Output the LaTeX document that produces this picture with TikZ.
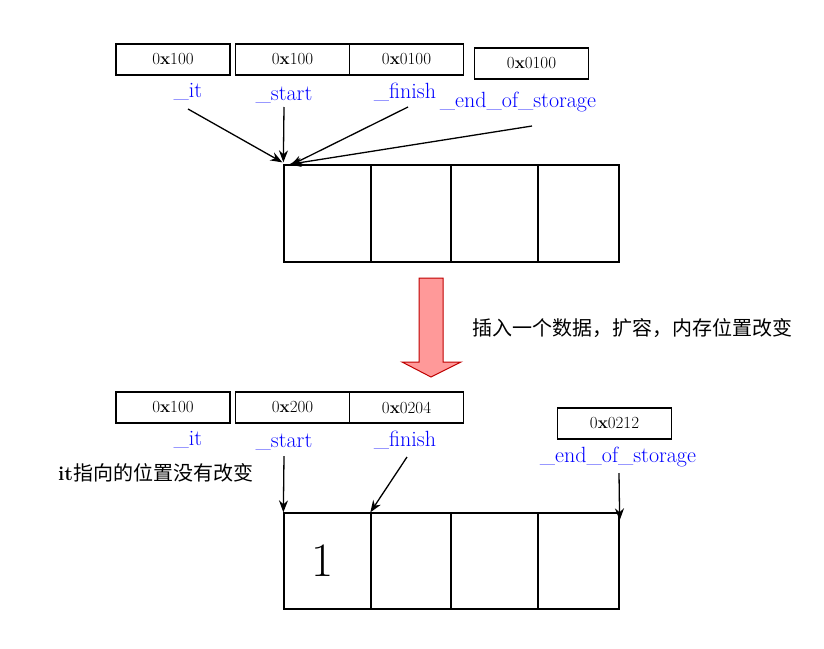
\documentclass[tikz,border=0pt]{standalone}
\usepackage{fontspec}
\newfontfamily\cjk{Noto Sans CJK SC}
\usetikzlibrary{arrows.meta}

\begin{document}
\begin{tikzpicture}[x=1pt, y=-1pt,
    B/.style={draw, line width=1.3pt, minimum width=114pt,
        minimum height=31pt, inner sep=0pt,
        font=\fontsize{17}{19}\selectfont},
    L/.style={anchor=base, text=blue, inner sep=0pt,
        font=\fontsize{22}{24}\selectfont},
    C/.style={draw, line width=1.3pt, inner sep=0pt},
    A/.style={-{Stealth[length=12pt,width=9pt]}, line width=1.3pt}]
    \useasboundingbox (0,0) rectangle (824,648);
    % before the insertion
    \node[B] (it1) at (173,59.5) {0\textbf{x}100};
    \node[B] (st1) at (292.5,59.5) {0\textbf{x}100};
    \node[B] (fi1) at (406.5,59.5) {0\textbf{x}0100};
    \node[B] (eo1) at (531.5,63.5) {0\textbf{x}0100};
    \node[L] (lit1) at (188,97) {\_it};
    \node[L] (lst1) at (284,100) {\_start};
    \node[L] (lfi1) at (405,98) {\_finish};
    \node[L] (leo1) at (518,107) {\_end\_of\_storage};
    \node[C, minimum width=87pt, minimum height=97pt] (a1) at (327.5,213.5) {};
    \node[C, minimum width=80pt, minimum height=97pt] (a2) at (411,213.5) {};
    \node[C, minimum width=87pt, minimum height=97pt] (a3) at (494.5,213.5) {};
    \node[C, minimum width=81pt, minimum height=97pt] (a4) at (578.5,213.5) {};
    \draw[A] ([yshift=-12pt]lit1.base) -- ([shift={(-1pt,2pt)}]a1.north west);
    \draw[A] ([yshift=-7pt]lst1.base) -- ([yshift=2pt]a1.north west);
    \draw[A] ([shift={(3pt,-9pt)}]lfi1.base) -- ([shift={(7pt,-1pt)}]a1.north west);
    \draw[A] ([shift={(14pt,-19pt)}]leo1.base) -- ([xshift=6pt]a1.north west);
    % the big arrow
    \draw[draw=red!75!black, fill=red!40, line width=1pt]
        (419,278) -- (443,278) -- (443,362) -- (461,362) -- (431,377)
        -- (402,362) -- (419,362) -- cycle;
    \node[anchor=base west, inner sep=0pt, font=\cjk\fontsize{20}{22}\selectfont]
        (msg) at (472,335) {插入一个数据，扩容，内存位置改变};
    % after the insertion
    \node[B] (it2) at (173,407.5) {0\textbf{x}100};
    \node[B] (st2) at (292.5,407.5) {0\textbf{x}200};
    \node[B] (fi2) at (406.5,407.5) {0\textbf{x}0204};
    \node[B] (eo2) at (614.5,423.5) {0\textbf{x}0212};
    \node[L] (lit2) at (188,445) {\_it};
    \node[L] (lst2) at (284,447) {\_start};
    \node[L] (lfi2) at (405,446) {\_finish};
    \node[L] (leo2) at (618,462) {\_end\_of\_storage};
    \node[anchor=base west, inner sep=0pt, font=\fontsize{20}{22}\selectfont]
        (note) at (58,480) {\textbf{it}{\cjk 指向的位置没有改变}};
    \node[C, minimum width=87pt, minimum height=96pt] (b1) at (327.5,561) {};
    \node[C, minimum width=80pt, minimum height=96pt] (b2) at (411,561) {};
    \node[C, minimum width=87pt, minimum height=96pt] (b3) at (494.5,561) {};
    \node[C, minimum width=81pt, minimum height=96pt] (b4) at (578.5,561) {};
    \node[font=\fontsize{48}{50}\selectfont] (one) at ([xshift=-5pt]b1.center) {1};
    \draw[A] ([yshift=-9pt]lst2.base) -- (b1.north west);
    \draw[A] ([shift={(2pt,-11pt)}]lfi2.base) -- (b2.north west);
    \draw[A] ([shift={(1pt,-11pt)}]leo2.base) -- ([yshift=-8pt]b4.north east);
\end{tikzpicture}
\end{document}
